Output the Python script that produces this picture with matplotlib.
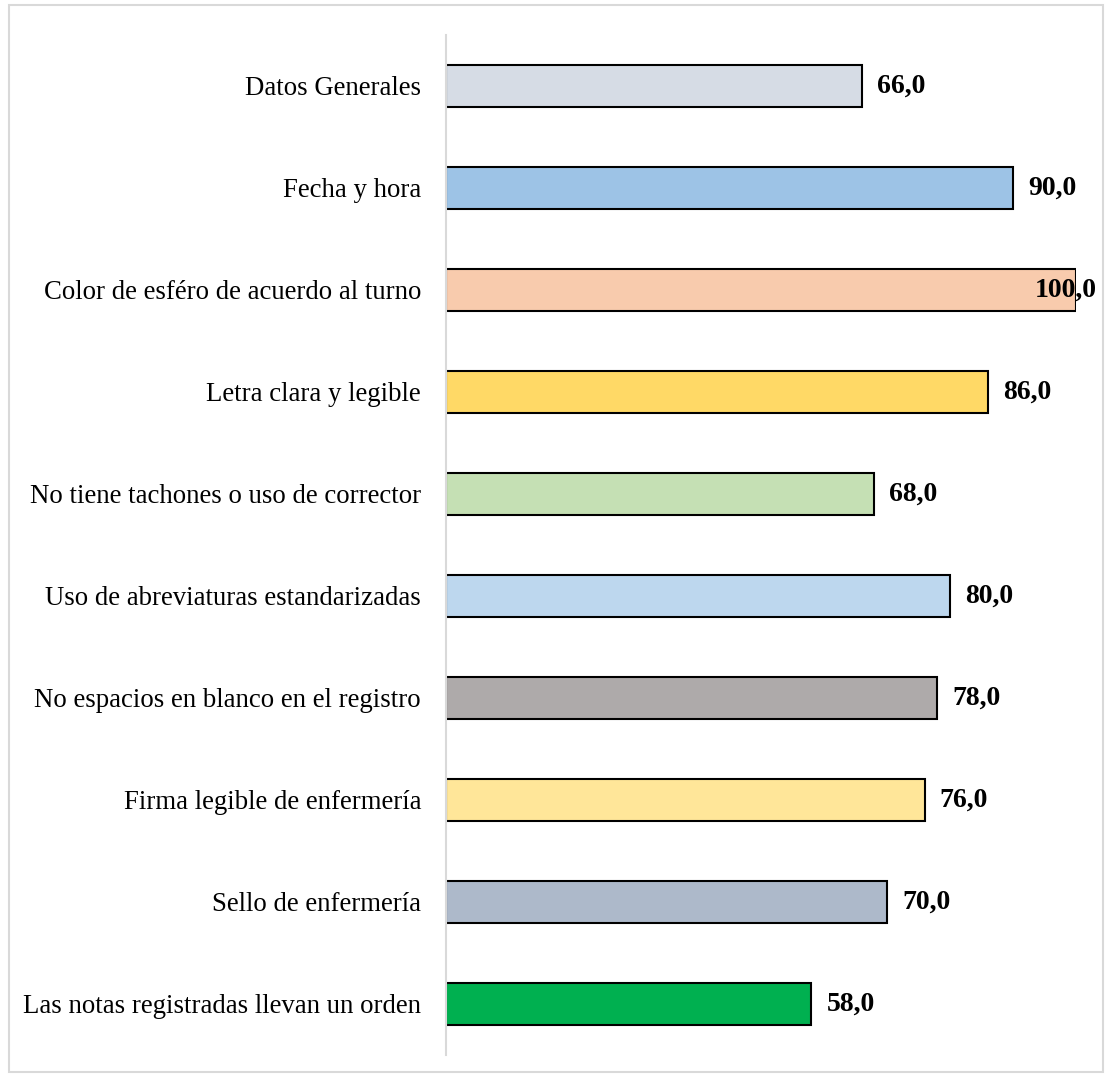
import matplotlib.pyplot as plt
from matplotlib.patches import Rectangle

categorias = ['Datos Generales', 'Fecha y hora', 'Color de esféro de acuerdo al turno',
              'Letra clara y legible', 'No tiene tachones o uso de corrector',
              'Uso de abreviaturas estandarizadas', 'No espacios en blanco en el registro',
              'Firma legible de enfermería', 'Sello de enfermería',
              'Las notas registradas llevan un orden']
valores = [66.0, 90.0, 100.0, 86.0, 68.0, 80.0, 78.0, 76.0, 70.0, 58.0]
colores = ['#D6DCE5', '#9DC3E6', '#F8CBAD', '#FFD966', '#C5E0B4',
           '#BDD7EE', '#AEAAAA', '#FFE699', '#ADB9CA', '#00B050']

plt.rcParams['font.family'] = ['Liberation Serif', 'DejaVu Serif']

fig = plt.figure(figsize=(11.06, 10.78), dpi=100)
ax = fig.add_axes([446 / 1106, 1 - 1055 / 1078, 630 / 1106, 1020 / 1078])

pos = list(range(len(categorias)))
ax.barh(pos, valores, height=0.41, color=colores, edgecolor='black', linewidth=1.5)
ax.set_xlim(0, 100)
ax.set_ylim(len(categorias) - 0.5, -0.5)
ax.set_yticks(pos)
ax.set_yticklabels(categorias, fontsize=19.3)
ax.tick_params(axis='y', length=0, pad=18)
ax.set_xticks([])
for s in ['top', 'right', 'bottom']:
    ax.spines[s].set_visible(False)
ax.spines['left'].set_color('#D9D9D9')
ax.spines['left'].set_linewidth(1.5)

for p, v in zip(pos, valores):
    txt = f'{v:.1f}'.replace('.', ',')
    if v >= 100:
        # no cabe a la derecha: se superpone al final de la barra
        ax.annotate(txt, (v, p), xytext=(21, 0), textcoords='offset pixels',
                    va='center', ha='right', fontsize=20, fontweight='bold',
                    annotation_clip=False)
    else:
        ax.annotate(txt, (v, p), xytext=(15, 0), textcoords='offset pixels',
                    va='center', ha='left', fontsize=20, fontweight='bold',
                    annotation_clip=False)

fig.patches.append(Rectangle((9 / 1106, 1 - 1072 / 1078), 1094 / 1106, 1067 / 1078,
                             transform=fig.transFigure, fill=False,
                             edgecolor='#D9D9D9', linewidth=1.5))

plt.savefig('out.png')
